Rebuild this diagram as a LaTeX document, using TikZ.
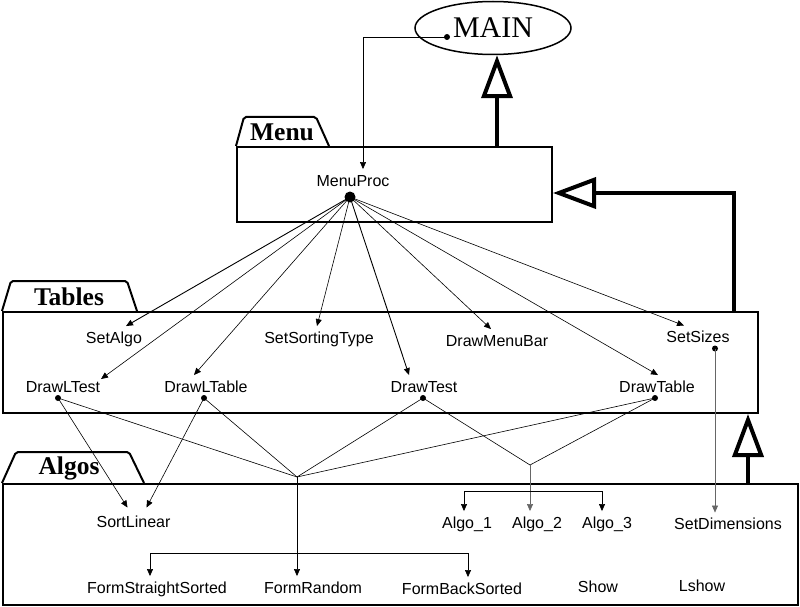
\documentclass[tikz,border=0pt]{standalone}
\usepackage{fontspec}
\setmainfont{Liberation Serif}
\newfontfamily\lblfont{Liberation Sans}
\usetikzlibrary{arrows.meta,shapes.geometric}

\begin{document}
\begin{tikzpicture}[x=1pt, y=-1pt,
  box/.style={draw, line width=2pt, inner sep=0pt},
  tab/.style={draw, line width=2pt, rounded corners=2pt},
  ttl/.style={font=\fontsize{25.5}{27}\selectfont\bfseries, text height=17pt, text depth=0pt, inner sep=0pt},
  lbl/.style={font=\lblfont\fontsize{16}{18}\selectfont, inner xsep=2pt, inner ysep=5pt,
              text height=12pt, text depth=3.5pt},
  dot/.style={circle, fill, inner sep=0pt, minimum size=6pt},
  ln/.style={line width=0.6pt},
  gln/.style={ln, draw=black!60},
  ar/.style={ln, -{Triangle[length=7pt,width=6pt]}},
  inh/.style={line width=4pt, -{Triangle[open,length=43pt,width=31pt]}}]
\useasboundingbox (0,0) rectangle (800,607);
\node[ellipse, draw, line width=1.5pt, minimum width=156pt, minimum height=53pt, inner sep=0pt,
      font=\fontsize{30}{32}\selectfont] (main) at (493,28) {MAIN};
\node[box, minimum width=315pt, minimum height=75pt] (menu) at (394.5,184.5) {};
\node[box, minimum width=755pt, minimum height=101pt] (tables) at (380.5,362.5) {};
\node[box, minimum width=795pt, minimum height=121pt] (algos) at (400.5,544.5) {};
\draw[tab] (menu.north west) -- ++(8,-29) -- ++(72,0) -- ++(13,29);
\draw[tab] (tables.north west) -- ++(9,-30) -- ++(116,0) -- ++(10,30);
\draw[tab] (algos.north west) -- ++(14,-31) -- ++(113,0) -- ++(15,31);
\node[ttl] (tmenu) at ([xshift=46pt,yshift=14pt]menu.north west) {Menu};
\node[ttl] (ttables) at ([xshift=67pt,yshift=14pt]tables.north west) {Tables};
\node[ttl] (talgos) at ([xshift=67pt,yshift=17pt]algos.north west) {Algos};
\node[lbl] (mp) at (353,182) {MenuProc};
\node[lbl] (sa) at (114,339) {SetAlgo};
\node[lbl] (sst) at (319,339) {SetSortingType};
\node[lbl] (dmb) at (497,342) {DrawMenuBar};
\node[lbl] (ss) at (698,338.5) {SetSizes};
\node[lbl] (dlt) at (63,388) {DrawLTest};
\node[lbl] (dlb) at (206,388) {DrawLTable};
\node[lbl] (dt) at (424,388) {DrawTest};
\node[lbl] (dtb) at (657,388) {DrawTable};
\node[lbl] (sl) at (133.5,523.5) {SortLinear};
\node[lbl] (a1) at (467,524) {Algo\_1};
\node[lbl] (a2) at (537,524) {Algo\_2};
\node[lbl] (a3) at (607,524) {Algo\_3};
\node[lbl] (sd) at (728,525.5) {SetDimensions};
\node[lbl] (fss) at (157,589) {FormStraightSorted};
\node[lbl] (fr) at (313,589) {FormRandom};
\node[lbl] (fbs) at (462,590) {FormBackSorted};
\node[lbl] (sh) at (598,588) {Show};
\node[lbl] (ls) at (702,587.5) {Lshow};
\node[dot] (pmain) at ([xshift=-46pt,yshift=-9pt]main.center) {};
\node[dot, minimum size=11pt] (pmp) at ([xshift=-3pt,yshift=-15pt]mp.center) {};
\node[dot] (pdlt) at ([xshift=-5pt,yshift=-10pt]dlt.center) {};
\node[dot] (pdlb) at ([xshift=-2pt,yshift=-10pt]dlb.center) {};
\node[dot] (pdt) at ([xshift=-1pt,yshift=-10pt]dt.center) {};
\node[dot] (pdtb) at ([xshift=-2pt,yshift=-10pt]dtb.center) {};
\node[dot] (pss) at ([xshift=17pt,yshift=-10pt]ss.center) {};
\coordinate (j1) at (297,477);
\coordinate (j2) at (530,465);
\coordinate (b1) at (297,553);
\coordinate (b2) at (530,491);
\draw[ar] (pmain.center) -| ([xshift=10pt]mp.north);
\draw[ar, line width=0.9pt] (pmp.center) -- ([xshift=12pt]sa.north);
\draw[ar] (pmp.center) -- ([xshift=-2pt]sst.north);
\draw[ar] (pmp.center) -- ([xshift=-6pt]dmb.north);
\draw[ar] (pmp.center) -- ([xshift=-14pt]ss.north);
\draw[ar] (pmp.center) -- ([xshift=38pt,yshift=-4pt]dlt.north);
\draw[ar] (pmp.center) -- ([xshift=-12pt]dlb.north);
\draw[ar, line width=0.9pt] (pmp.center) -- ([xshift=-15pt]dt.north);
\draw[ar] (pmp.center) -- ([xshift=1pt]dtb.north);
\draw[ar] (pdlt.center) -- ([xshift=-6pt,yshift=3pt]sl.north);
\draw[ar] (pdlb.center) -- ([xshift=13pt,yshift=3pt]sl.north);
\foreach \p in {pdlt,pdlb,pdt,pdtb} \draw[ln] (\p.center) -- (j1);
\draw[ln] (pdt.center) -- (j2);
\draw[ln] (pdtb.center) -- (j2);
\draw[ar] (j1) -- (j1 |- fr.north);
\draw[ar] (b1) -| ([xshift=-7pt]fss.north);
\draw[ar] (b1) -| ([xshift=6pt]fbs.north);
\draw[ar, gln] (j2) -- (j2 |- a2.north);
\draw[ar] (b2) -| ([xshift=-3pt]a1.north);
\draw[ar] (b2) -| ([xshift=-5pt]a3.north);
\draw[ar, gln] (pss.center) -- (pss |- sd.north);
\draw[inh] ([xshift=102.5pt]menu.north) -- ([xshift=4pt]main.south);
\draw[inh] ([xshift=353.5pt]tables.north) |- ([yshift=-8.5pt]menu.east);
\draw[inh] ([xshift=347.5pt]algos.north) -- ([xshift=367.5pt]tables.south);
\end{tikzpicture}
\end{document}
